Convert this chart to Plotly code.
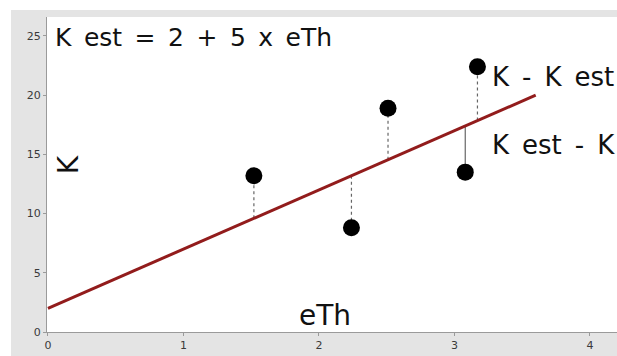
"""Linear estimate K est = 2 + 5 x eTh with residuals."""
import plotly.graph_objects as go

# data
eth = [1.52, 2.24, 2.51, 3.08, 3.17]
k_obs = [13.2, 8.8, 18.9, 13.5, 22.4]
resid_dash = ["dot", "dot", "dot", "solid", "dot"]
intercept, slope = 2, 5
line_x = [0, 3.6]
x_ticks = [0, 1, 2, 3, 4]
y_ticks = [0, 5, 10, 15, 20, 25]

FONT = "DejaVu Sans, Verdana, sans-serif"
GRAY_BG = "#e4e4e4"
LINE_RED = "#921c1c"
SP = "\u2002"  # wider space, the source text is loosely set

fig = go.Figure()

# residual segments from the fitted line to each point
for x, k, d in zip(eth, k_obs, resid_dash):
    k_est = intercept + slope * x
    fig.add_trace(go.Scatter(
        x=[x, x], y=[k_est, k], mode="lines",
        line=dict(color="#666666", width=1.2, dash=d),
        hoverinfo="skip",
    ))

# fitted line
fig.add_trace(go.Scatter(
    x=line_x, y=[intercept + slope * v for v in line_x], mode="lines",
    line=dict(color=LINE_RED, width=3),
    hoverinfo="skip",
))

# observed points
fig.add_trace(go.Scatter(
    x=eth, y=k_obs, mode="markers",
    marker=dict(color="black", size=17),
    hovertemplate="eTh %{x}<br>K %{y}<extra></extra>",
))

notes = [
    (0.04, 24.9, SP.join(["K", "est", "=", "2", "+", "5", "x", "eTh"]), 25),
    (3.26, 21.5, SP.join(["K", "-", "K", "est"]), 26),
    (3.26, 15.8, SP.join(["K", "est", "-", "K"]), 26),
    (1.84, 1.4, "eTh", 28),
]
for x, y, txt, sz in notes:
    fig.add_annotation(x=x, y=y, text=txt, showarrow=False,
                       xanchor="left", yanchor="middle",
                       font=dict(family=FONT, size=sz, color="#111111"))
fig.add_annotation(x=0.15, y=14.1, text="K", showarrow=False, textangle=-90,
                   xanchor="center", yanchor="middle",
                   font=dict(family=FONT, size=28, color="#111111"))

# white strips above and left of the gray frame
fig.add_shape(type="rect", xref="paper", yref="paper",
              x0=-0.1, x1=1.05, y0=1.0222, y1=1.2,
              fillcolor="white", line_width=0, layer="below")
fig.add_shape(type="rect", xref="paper", yref="paper",
              x0=-0.1, x1=-0.0632, y0=-0.2, y1=1.2,
              fillcolor="white", line_width=0, layer="below")

axis_style = dict(
    showgrid=False, zeroline=False, showline=True, linecolor="#9a9a9a",
    ticks="outside", ticklen=3, tickcolor="#9a9a9a",
    tickfont=dict(family=FONT, size=11, color="#3a3a3a"),
)
fig.update_layout(
    width=617, height=356,
    margin=dict(l=47, r=0, t=17, b=24),
    paper_bgcolor=GRAY_BG, plot_bgcolor="white",
    showlegend=False,
    xaxis=dict(range=[-0.007, 4.2], tickvals=x_ticks, **axis_style),
    yaxis=dict(range=[0, 26.6], tickvals=y_ticks, **axis_style),
)

fig.write_html("out.html", config={"displayModeBar": False},
               post_script="document.body.style.margin='0';")
